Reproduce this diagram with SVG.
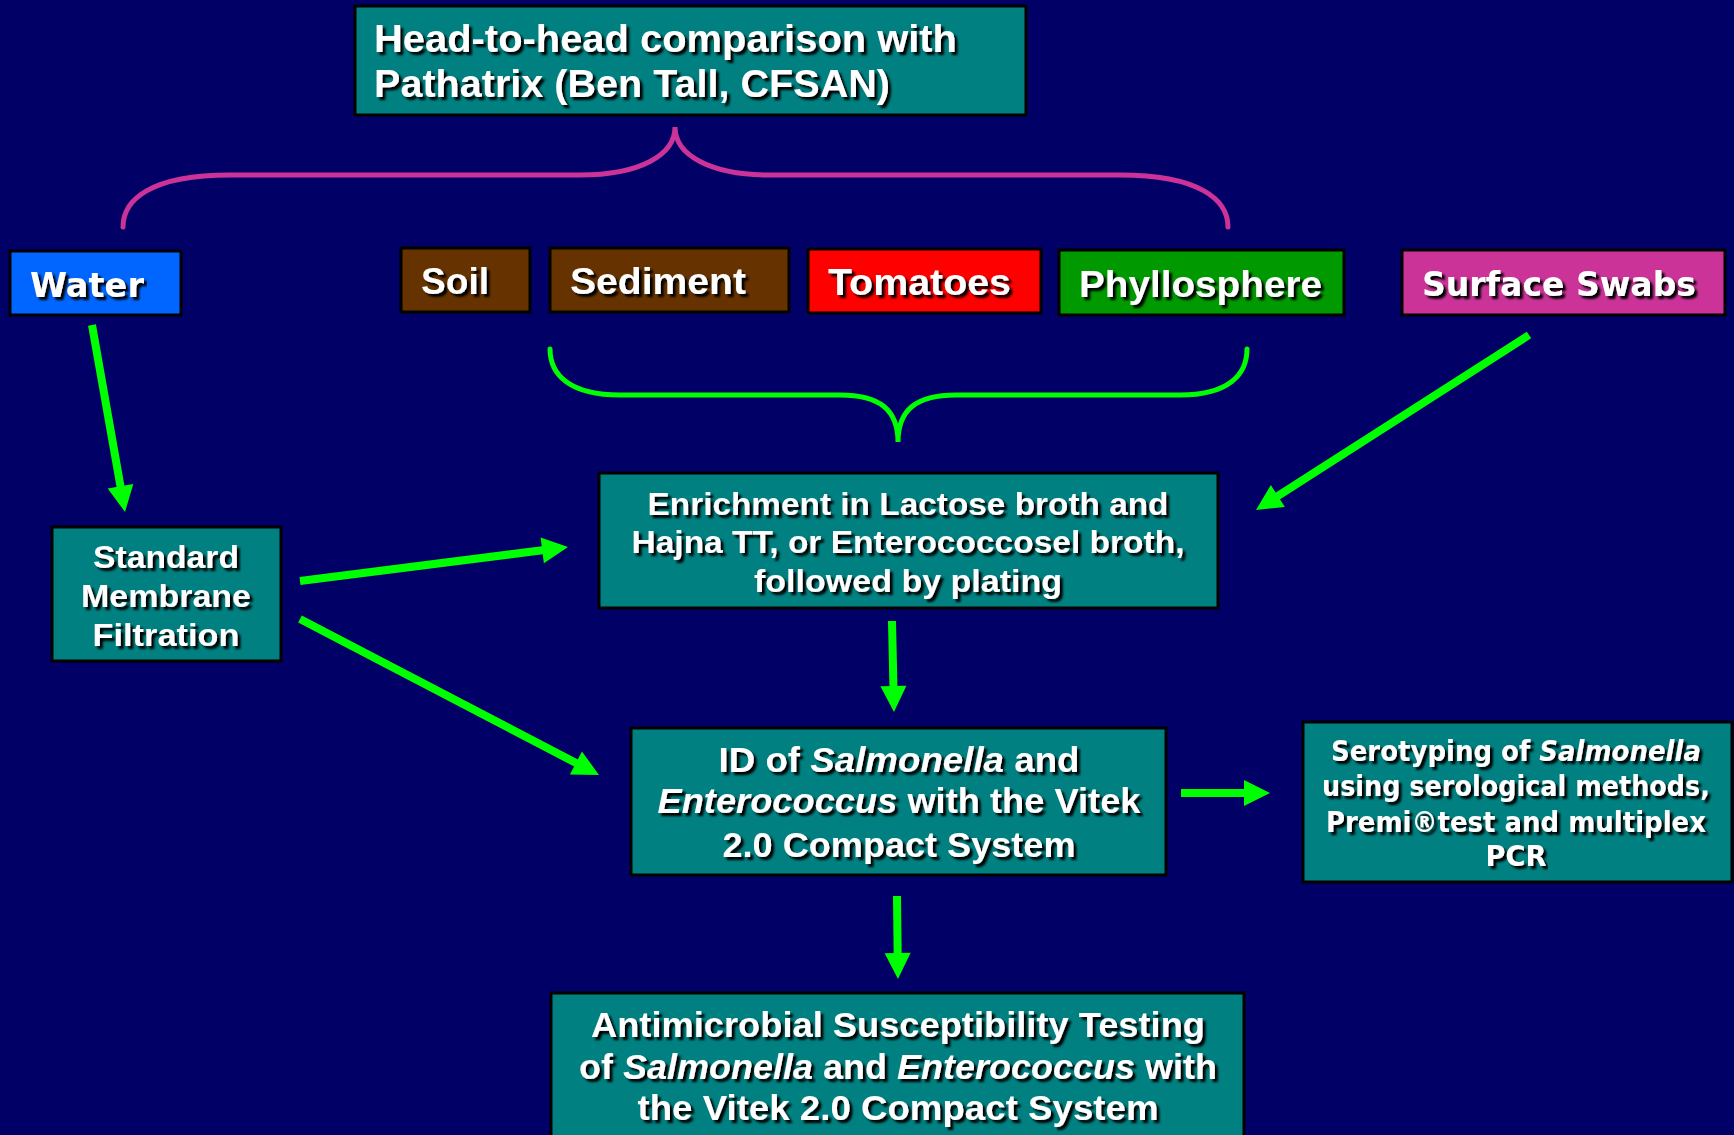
<svg xmlns="http://www.w3.org/2000/svg" width="1734" height="1135" viewBox="0 0 1734 1135">
<defs>
<filter id="sh" x="-2%" y="-20%" width="104%" height="150%">
<feDropShadow dx="3" dy="3" stdDeviation="0.8" flood-color="#000" flood-opacity="1"/>
</filter>
<marker id="ah" markerUnits="userSpaceOnUse" markerWidth="30" markerHeight="30" viewBox="0 0 30 30" refX="6" refY="15" orient="auto">
<path d="M2,2 L28,15 L2,28 Z" fill="#00FF00"/>
</marker>
</defs>
<style>
.bx{stroke:#000;stroke-width:3}
.teal{fill:#008080}
.t{fill:#fff;font-family:"Liberation Sans",Arial,sans-serif;font-weight:bold;filter:url(#sh)}
.v{fill:#fff;font-family:"DejaVu Sans",Verdana,sans-serif;font-weight:bold;filter:url(#sh)}
.c{text-anchor:middle}
.i{font-style:italic}
.ar{stroke:#00FF00;stroke-width:8;fill:none;marker-end:url(#ah)}
.br{fill:none;stroke-width:5;stroke-linecap:round}
</style>
<rect width="1734" height="1135" fill="#000066"/>

<g id="top">
<rect class="bx teal" x="355" y="6" width="671" height="109"/>
<text class="t" x="374" y="52" font-size="38" textLength="583" lengthAdjust="spacingAndGlyphs">Head-to-head comparison with</text>
<text class="t" x="374" y="97" font-size="38" textLength="516" lengthAdjust="spacingAndGlyphs">Pathatrix (Ben Tall, CFSAN)</text>
</g>

<g id="water">
<rect class="bx" fill="#0066FF" x="10" y="251" width="171" height="64"/>
<text class="v" x="30" y="297" font-size="34" textLength="114" lengthAdjust="spacingAndGlyphs">Water</text>
</g>
<g id="soil">
<rect class="bx" fill="#663300" x="401" y="248" width="129" height="64"/>
<text class="t" x="421" y="294" font-size="36" textLength="68" lengthAdjust="spacingAndGlyphs">Soil</text>
</g>
<g id="sediment">
<rect class="bx" fill="#663300" x="550" y="248" width="239" height="64"/>
<text class="t" x="570" y="294" font-size="36" textLength="176" lengthAdjust="spacingAndGlyphs">Sediment</text>
</g>
<g id="tomatoes">
<rect class="bx" fill="#FF0000" x="808" y="249" width="233" height="64"/>
<text class="t" x="828" y="295" font-size="36" textLength="183" lengthAdjust="spacingAndGlyphs">Tomatoes</text>
</g>
<g id="phyllosphere">
<rect class="bx" fill="#009900" x="1059" y="250" width="285" height="65"/>
<text class="t" x="1079" y="297" font-size="36" textLength="243" lengthAdjust="spacingAndGlyphs">Phyllosphere</text>
</g>
<g id="swabs">
<rect class="bx" fill="#CC3399" x="1402" y="250" width="323" height="65"/>
<text class="v" x="1422" y="296" font-size="34" textLength="274" lengthAdjust="spacingAndGlyphs">Surface Swabs</text>
</g>

<g id="smf">
<rect class="bx teal" x="52" y="527" width="229" height="134"/>
<text class="t c" x="166" y="568" font-size="31" textLength="146" lengthAdjust="spacingAndGlyphs">Standard</text>
<text class="t c" x="166" y="607" font-size="31" textLength="170" lengthAdjust="spacingAndGlyphs">Membrane</text>
<text class="t c" x="166" y="646" font-size="31" textLength="147" lengthAdjust="spacingAndGlyphs">Filtration</text>
</g>

<g id="enrichment">
<rect class="bx teal" x="599" y="473" width="619" height="135"/>
<text class="t c" x="908" y="515" font-size="31" textLength="521" lengthAdjust="spacingAndGlyphs">Enrichment in Lactose broth and</text>
<text class="t c" x="908" y="553" font-size="31" textLength="553" lengthAdjust="spacingAndGlyphs">Hajna TT, or Enterococcosel broth,</text>
<text class="t c" x="908" y="592" font-size="31" textLength="308" lengthAdjust="spacingAndGlyphs">followed by plating</text>
</g>

<g id="id">
<rect class="bx teal" x="631" y="728" width="535" height="147"/>
<text class="t c" x="899" y="772" font-size="35" textLength="361" lengthAdjust="spacingAndGlyphs">ID of <tspan class="i">Salmonella</tspan> and</text>
<text class="t c" x="899" y="813" font-size="35" textLength="483" lengthAdjust="spacingAndGlyphs"><tspan class="i">Enterococcus</tspan> with the Vitek</text>
<text class="t c" x="899" y="857" font-size="35" textLength="353" lengthAdjust="spacingAndGlyphs">2.0 Compact System</text>
</g>

<g id="serotyping">
<rect class="bx teal" x="1303" y="722" width="429" height="160"/>
<text class="v c" x="1516" y="761" font-size="28" textLength="370" lengthAdjust="spacingAndGlyphs">Serotyping of <tspan class="i">Salmonella</tspan></text>
<text class="v c" x="1516" y="796" font-size="28" textLength="388" lengthAdjust="spacingAndGlyphs">using serological methods,</text>
<text class="v c" x="1516" y="832" font-size="28" textLength="380" lengthAdjust="spacingAndGlyphs">Premi®test and multiplex</text>
<text class="v c" x="1516" y="866" font-size="28" textLength="61" lengthAdjust="spacingAndGlyphs">PCR</text>
</g>

<g id="ast">
<rect class="bx teal" x="551" y="993" width="693" height="150"/>
<text class="t c" x="898" y="1037" font-size="35" textLength="614" lengthAdjust="spacingAndGlyphs">Antimicrobial Susceptibility Testing</text>
<text class="t c" x="898" y="1079" font-size="35" textLength="638" lengthAdjust="spacingAndGlyphs">of <tspan class="i">Salmonella</tspan> and <tspan class="i">Enterococcus</tspan> with</text>
<text class="t c" x="898" y="1120" font-size="35" textLength="521" lengthAdjust="spacingAndGlyphs">the Vitek 2.0 Compact System</text>
</g>

<g id="connectors">
<path class="br" stroke="#CC3399" d="M123,227 C123,200 150,175 230,175 L580,175 C640,175 675,155 675,127 C675,155 710,175 770,175 L1120,175 C1200,175 1228,200 1228,227"/>
<path class="br" stroke="#00FF00" d="M550,349 C550,375 570,395 620,395 L840,395 C880,395 898,410 898,442 C898,410 916,395 956,395 L1180,395 C1228,395 1247,375 1247,349"/>
<line class="ar" x1="92" y1="325" x2="121.2" y2="490.3"/>
<line class="ar" x1="300" y1="581" x2="546.2" y2="549.8"/>
<line class="ar" x1="300" y1="619" x2="579.5" y2="764.8"/>
<line class="ar" x1="1529" y1="335" x2="1274.5" y2="498.1"/>
<line class="ar" x1="892" y1="621" x2="893.5" y2="690"/>
<line class="ar" x1="1181" y1="793" x2="1248" y2="793"/>
<line class="ar" x1="897" y1="896" x2="897.7" y2="957"/>
</g>
</svg>
